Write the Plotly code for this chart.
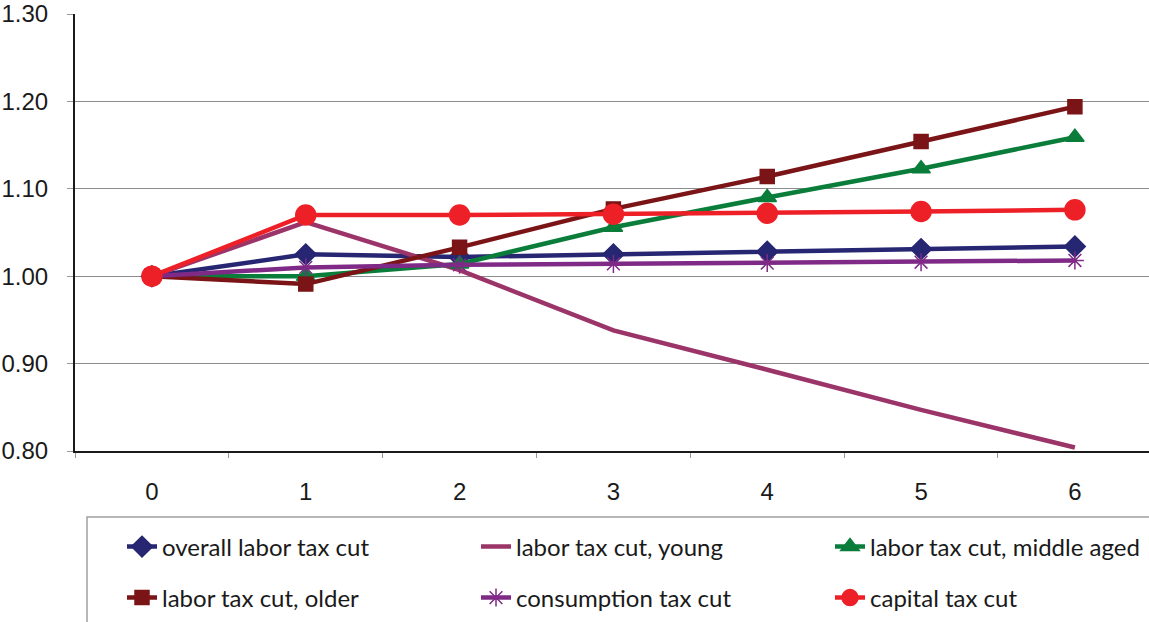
import plotly.graph_objects as go

periods = ["0", "1", "2", "3", "4", "5", "6"]
overall_labor = [1.000, 1.025, 1.022, 1.025, 1.028, 1.031, 1.034]
labor_young = [1.000, 1.062, 1.007, 0.938, 0.893, 0.847, 0.804]
labor_middle = [1.000, 1.000, 1.014, 1.056, 1.090, 1.123, 1.159]
labor_older = [1.000, 0.991, 1.033, 1.077, 1.114, 1.154, 1.194]
consumption = [1.000, 1.010, 1.013, 1.014, 1.015, 1.016, 1.018]
capital = [1.000, 1.070, 1.070, 1.071, 1.072, 1.074, 1.076]

series = [
    ("overall labor tax cut", overall_labor, "#262673", "diamond", 16, "legend"),
    ("labor tax cut, young", labor_young, "#9b3468", None, 0, "legend"),
    ("labor tax cut, middle aged", labor_middle, "#0a7d3a", "triangle-up", 16, "legend"),
    ("labor tax cut, older", labor_older, "#7b1416", "square", 14, "legend2"),
    ("consumption tax cut", consumption, "#7f2a86", "asterisk-open", 15, "legend2"),
    ("capital tax cut", capital, "#ee2027", "circle", 20, "legend2"),
]

fig = go.Figure()
for name, vals, color, sym, size, lg in series:
    if sym is None:
        mode = "lines"
        marker = None
    else:
        mode = "lines+markers"
        marker = dict(symbol=sym, size=size, color=color, line=dict(color=color, width=1.5))
    fig.add_trace(go.Scatter(
        x=periods, y=vals, name=name, mode=mode,
        line=dict(color=color, width=4.5),
        marker=marker, legend=lg,
    ))

L, T, B = 75, 14, 171
W, H = 1149, 622
plot_h = H - T - B
plot_w = W - L

def ypix(p):
    return (H - B - p) / plot_h

leg_common = dict(
    orientation="h", xanchor="left", yanchor="middle",
    xref="container", yref="container",
    entrywidth=309, entrywidthmode="pixels",
    font=dict(family="Lato, Liberation Sans, sans-serif", size=24, color="#1a1a1a"),
    bgcolor="rgba(0,0,0,0)", borderwidth=0, itemwidth=30,
    traceorder="normal",
)

fig.update_layout(
    width=W, height=H,
    margin=dict(l=L, r=0, t=T, b=B, autoexpand=False),
    paper_bgcolor="white", plot_bgcolor="white",
    font=dict(family="Liberation Sans, Arial, sans-serif", size=24, color="#1a1a1a"),
    showlegend=True,
    legend=dict(x=122 / W, y=1 - 547 / H, **leg_common),
    legend2=dict(x=122 / W, y=1 - 598 / H, **leg_common),
    xaxis=dict(
        type="category", range=[-0.5, -0.5 + plot_w / 153.83],
        showgrid=False, showline=True, linecolor="#1a1a1a", linewidth=2,
        ticks="outside", tickson="boundaries", ticklen=5, tickcolor="#999999",
        ticklabelstandoff=18, zeroline=False,
    ),
    yaxis=dict(
        range=[0.80, 1.30], dtick=0.1, tick0=0.8, tickformat=".2f",
        showgrid=True, gridcolor="#8c8c8c", gridwidth=1.2,
        showline=True, linecolor="#1a1a1a", linewidth=2,
        ticks="outside", ticklen=6, tickcolor="#999999",
        ticklabelstandoff=14, zeroline=False,
    ),
    shapes=[dict(
        type="rect", xref="paper", yref="paper",
        x0=(87 - L) / plot_w, x1=1.01, y0=ypix(517), y1=ypix(640),
        line=dict(color="#a0a0a0", width=1.5), fillcolor="rgba(0,0,0,0)",
        layer="below",
    )],
)

fig.write_html("out.html")
